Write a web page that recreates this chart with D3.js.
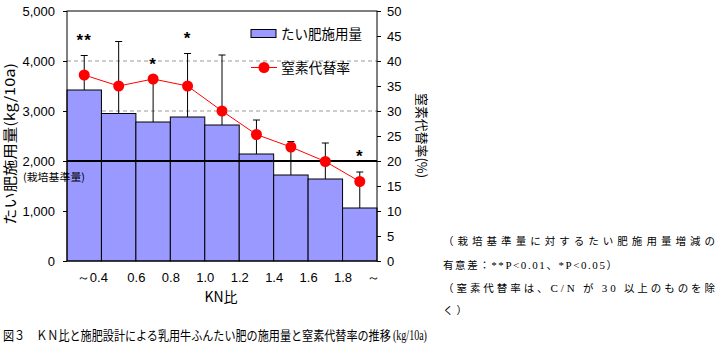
<!DOCTYPE html>
<html>
<head>
<meta charset="utf-8">
<script src="https://cdn.jsdelivr.net/npm/d3@7"></script>
<style>
  html, body { margin: 0; padding: 0; background: #fff; }
  svg { display: block; }
  .tick text { font-family: "Liberation Sans", Arial, sans-serif; font-size: 13px; fill: #000; }
  .jp { font-family: "Noto Sans CJK JP", sans-serif; fill: #000; }
  .serif { font-family: "Liberation Serif", serif; }
</style>
</head>
<body>
<svg id="chart" width="722" height="349"></svg>
<script>
// KN比の区分ごとのたい肥施用量 (kg/10a) と窒素代替率 (%)
const bins = ["～0.4", "0.4～0.6", "0.6～0.8", "0.8～1.0", "1.0～1.2", "1.2～1.4", "1.4～1.6", "1.6～1.8", "1.8～"];
const manureAmount = [3420, 2950, 2780, 2880, 2720, 2140, 1720, 1640, 1060];
const manureUpper  = [4110, 4390, 3630, 4150, 4120, 2820, 2390, 2360, 1780];
const nitrogenRate = [37.2, 35.0, 36.4, 35.0, 30.0, 25.3, 22.8, 19.9, 15.9];
const significance = ["**", "", "*", "*", "", "", "", "", "*"];
const standardAmount = 2000;
const xTickLabels = ["～0.4", "0.6", "0.8", "1.0", "1.2", "1.4", "1.6", "1.8", "～"];
const leftTicks = [0, 1000, 2000, 3000, 4000, 5000];
const rightTicks = [0, 5, 10, 15, 20, 25, 30, 35, 40, 45, 50];
const gridValues = [1000, 3000, 4000];

const svg = d3.select("#chart");
const plot = { left: 67, right: 377, top: 11, bottom: 261 };

const x = d3.scaleLinear().domain([0, bins.length]).range([plot.left, plot.right]);
const yL = d3.scaleLinear().domain([0, 5000]).range([plot.bottom, plot.top]);
const yR = d3.scaleLinear().domain([0, 50]).range([plot.bottom, plot.top]);
const cx = i => x(i + 0.5);

// squeeze a text horizontally so it spans the given width
function fitWidth(sel, x0, y0, width) {
  const w = sel.node().getComputedTextLength();
  sel.attr("transform", `translate(${x0},${y0}) scale(${width / w},1)`);
}

// dashed gridlines (behind bars)
svg.append("g").selectAll("line").data(gridValues).join("line")
  .attr("x1", plot.left).attr("x2", plot.right)
  .attr("y1", d => yL(d)).attr("y2", d => yL(d))
  .attr("stroke", "#999").attr("stroke-width", 1).attr("stroke-dasharray", "4,3");

// bars
svg.append("g").selectAll("rect").data(manureAmount).join("rect")
  .attr("x", (d, i) => x(i)).attr("width", (d, i) => x(i + 1) - x(i))
  .attr("y", d => yL(d)).attr("height", d => yL(0) - yL(d))
  .attr("fill", "#9999ff").attr("stroke", "#000").attr("stroke-width", 1);

// error bars
const eb = svg.append("g").attr("stroke", "#000").attr("stroke-width", 1);
eb.selectAll("line.v").data(manureUpper).join("line").attr("class", "v")
  .attr("x1", (d, i) => cx(i)).attr("x2", (d, i) => cx(i))
  .attr("y1", (d, i) => yL(manureAmount[i])).attr("y2", d => yL(d));
eb.selectAll("line.c").data(manureUpper).join("line").attr("class", "c")
  .attr("x1", (d, i) => cx(i) - 3.5).attr("x2", (d, i) => cx(i) + 3.5)
  .attr("y1", d => yL(d)).attr("y2", d => yL(d));

// standard amount line
svg.append("line")
  .attr("x1", plot.left).attr("x2", plot.right)
  .attr("y1", yL(standardAmount)).attr("y2", yL(standardAmount))
  .attr("stroke", "#000").attr("stroke-width", 2.2);

// nitrogen replacement rate line + markers
svg.append("path").datum(nitrogenRate)
  .attr("d", d3.line().x((d, i) => cx(i)).y(d => yR(d)))
  .attr("fill", "none").attr("stroke", "#ff0000").attr("stroke-width", 1);
svg.append("g").selectAll("circle").data(nitrogenRate).join("circle")
  .attr("cx", (d, i) => cx(i)).attr("cy", d => yR(d)).attr("r", 5.5)
  .attr("fill", "#ff0000");

// significance marks
svg.append("g").selectAll("text").data(significance).join("text")
  .attr("x", (d, i) => cx(i)).attr("y", (d, i) => yL(manureUpper[i]) - 10)
  .attr("text-anchor", "middle")
  .attr("font-family", "Liberation Sans, sans-serif").attr("font-weight", "bold")
  .attr("font-size", 17).attr("letter-spacing", 1)
  .text(d => d);

// plot frame
svg.append("rect")
  .attr("x", plot.left).attr("y", plot.top)
  .attr("width", plot.right - plot.left).attr("height", plot.bottom - plot.top)
  .attr("fill", "none").attr("stroke", "#000").attr("stroke-width", 1);

// axes
const axL = svg.append("g").attr("transform", `translate(${plot.left},0)`)
  .call(d3.axisLeft(yL).tickValues(leftTicks).tickFormat(d3.format(",")).tickSize(4).tickPadding(8));
const axR = svg.append("g").attr("transform", `translate(${plot.right},0)`)
  .call(d3.axisRight(yR).tickValues(rightTicks).tickSize(4).tickPadding(6));
const axB = svg.append("g").attr("transform", `translate(0,${plot.bottom})`)
  .call(d3.axisBottom(x).tickValues(d3.range(1, bins.length + 1))
    .tickFormat((d, i) => xTickLabels[i]).tickSize(0).tickPadding(12));
[axL, axR, axB].forEach(a => {
  a.select(".domain").remove();
  a.selectAll(".tick line").attr("stroke", "#000");
});
axB.selectAll(".tick text").filter((d, i) => i === 0).attr("text-anchor", "end").attr("dx", 6);
axB.selectAll(".tick text").filter((d, i) => i === xTickLabels.length - 1).attr("dx", -4);

// axis titles
svg.append("text").attr("class", "jp")
  .attr("x", 221).attr("y", 302).attr("text-anchor", "middle").attr("font-size", 14)
  .text("KN比");
svg.append("text").attr("class", "jp")
  .attr("transform", "translate(15,144) rotate(-90)")
  .attr("text-anchor", "middle").attr("font-size", 14)
  .attr("textLength", 162).attr("lengthAdjust", "spacingAndGlyphs")
  .text("たい肥施用量(kg/10a)");
svg.append("text").attr("class", "jp")
  .attr("transform", "translate(416.5,135.5) rotate(90)")
  .attr("text-anchor", "middle").attr("font-size", 13)
  .attr("textLength", 85).attr("lengthAdjust", "spacingAndGlyphs")
  .text("窒素代替率(%)");
svg.append("text").attr("class", "jp")
  .attr("x", 23).attr("y", 180.5).attr("font-size", 10.5)
  .attr("textLength", 62).attr("lengthAdjust", "spacingAndGlyphs")
  .text("(栽培基準量)");

// legend
const lg = svg.append("g");
lg.append("rect").attr("x", 251).attr("y", 29.5).attr("width", 25).attr("height", 8)
  .attr("fill", "#9999ff").attr("stroke", "#000");
lg.append("text").attr("class", "jp").attr("x", 281).attr("y", 38.5).attr("font-size", 13.5)
  .attr("textLength", 81).attr("lengthAdjust", "spacingAndGlyphs").text("たい肥施用量");
lg.append("line").attr("x1", 251).attr("x2", 277).attr("y1", 67.5).attr("y2", 67.5)
  .attr("stroke", "#ff0000");
lg.append("circle").attr("cx", 264).attr("cy", 67.5).attr("r", 5.5).attr("fill", "#ff0000");
lg.append("text").attr("class", "jp").attr("x", 281).attr("y", 72.5).attr("font-size", 13.5)
  .attr("textLength", 69).attr("lengthAdjust", "spacingAndGlyphs").text("窒素代替率");

// notes
const notes = svg.append("g").attr("class", "jp").attr("font-size", 10.5);
notes.append("text").attr("x", 443).attr("y", 244.5)
  .attr("textLength", 272).attr("lengthAdjust", "spacing")
  .text("（栽培基準量に対するたい肥施用量増減の");
const n2 = notes.append("text").attr("x", 443).attr("y", 268.5);
n2.append("tspan").text("有意差：");
n2.append("tspan").attr("class", "serif").attr("font-size", 11).text("**P<0.01");
n2.append("tspan").text("、");
n2.append("tspan").attr("class", "serif").attr("font-size", 11).text("*P<0.05");
n2.append("tspan").text("）");
n2.attr("textLength", 174).attr("lengthAdjust", "spacing");
const n3 = notes.append("text").attr("x", 443).attr("y", 292);
n3.append("tspan").text("（窒素代替率は、");
n3.append("tspan").attr("class", "serif").attr("font-size", 11).text("C/N");
n3.append("tspan").text(" が ");
n3.append("tspan").attr("class", "serif").attr("font-size", 11).text("30");
n3.append("tspan").text(" 以上のものを除");
n3.attr("textLength", 272).attr("lengthAdjust", "spacing");
notes.append("text").attr("x", 443).attr("y", 314).attr("letter-spacing", 3).text("く）");

// caption
const capMain = svg.append("text").attr("class", "jp").attr("font-size", 13)
  .text("図３　ＫＮ比と施肥設計による乳用牛ふんたい肥の施用量と窒素代替率の推移");
fitWidth(capMain, 3, 339.5, 388);
const capUnit = svg.append("text").attr("class", "serif").attr("font-size", 14)
  .text("(kg/10a)");
fitWidth(capUnit, 393, 339.5, 34);
</script>
</body>
</html>
